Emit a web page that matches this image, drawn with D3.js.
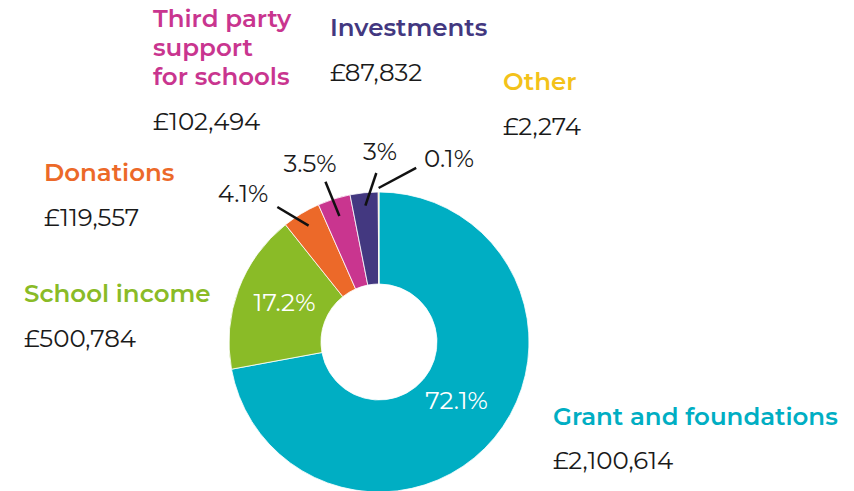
<!DOCTYPE html>
<html>
<head>
<meta charset="utf-8">
<script src="https://cdn.jsdelivr.net/npm/d3@7"></script>
<style>
  body { margin: 0; background: #fff; }
  svg { display: block; font-family: Montserrat, "DejaVu Sans", sans-serif; }
</style>
</head>
<body>
<div id="wrapper"></div>
<script>
// income sources, clockwise from 12 o'clock
const categories = ["Grant and foundations", "School income", "Donations", "Third party support for schools", "Investments", "Other"];
const amounts = [2100614, 500784, 119557, 102494, 87832, 2274];
const amountLabels = ["£2,100,614", "£500,784", "£119,557", "£102,494", "£87,832", "£2,274"];
const percentLabels = ["72.1%", "17.2%", "4.1%", "3.5%", "3%", "0.1%"];
const colours = ["#00aec3", "#8abb27", "#ec6929", "#c9358f", "#433880", "#f3c21a"];

function draw() {
  const width = 854, height = 491;
  const cx = 379, cy = 342;
  const outerR = 150, innerR = 58;

  const svg = d3.select("#wrapper")
    .append("svg")
      .attr("width", width)
      .attr("height", height)
      .attr("viewBox", "0 0 " + width + " " + height);

  const bounds = svg.append("g")
    .attr("transform", "translate(" + cx + "," + cy + ")");

  const data = categories.map((c, i) => ({ name: c, value: amounts[i], i: i }));
  const pie = d3.pie().value(d => d.value).sort(null);
  const arcs = pie(data);
  const arc = d3.arc().innerRadius(innerR).outerRadius(outerR);

  bounds.selectAll("path")
    .data(arcs)
    .enter()
    .append("path")
      .attr("d", arc)
      .attr("fill", d => colours[d.data.i])
      .attr("stroke", "#fff")
      .attr("stroke-width", 0.8);

  // polar helper (angle 0 at top, clockwise)
  const polar = (a, r) => [r * Math.sin(a), -r * Math.cos(a)];
  const mid = d => (d.startAngle + d.endAngle) / 2;
  const deg = Math.PI / 180;

  // percentages inside the two big slices
  const inside = { 0: [77.5, 67], 1: [-94.5, -31] };
  // leader lines: inner radius, outer end (angle offset in degrees, radius), text anchor point
  const leaders = {
    2: { r0: 136, da: -5.8, r1: 169, tx: -136, ty: -140 },
    3: { r0: 132, da: -1, r1: 169, tx: -69, ty: -170 },
    4: { r0: 137, da: 4.8, r1: 169, tx: 1, ty: -182 },
    5: { r0: 154, da: 12.2, r1: 178, tx: 70, ty: -175 }
  };

  arcs.forEach(d => {
    const i = d.data.i;
    if (inside[i]) {
      bounds.append("text")
        .attr("x", inside[i][0])
        .attr("y", inside[i][1])
        .attr("text-anchor", "middle")
        .attr("fill", "#fff")
        .attr("font-size", 24.5)
        .attr("font-weight", 400)
        .text(percentLabels[i]);
    } else {
      const L = leaders[i];
      const p0 = polar(mid(d), L.r0);
      const p1 = polar(mid(d) + L.da * deg, L.r1);
      bounds.append("line")
        .attr("x1", p0[0]).attr("y1", p0[1])
        .attr("x2", p1[0]).attr("y2", p1[1])
        .attr("stroke", "#111")
        .attr("stroke-width", 2.5);
      bounds.append("text")
        .attr("x", L.tx)
        .attr("y", L.ty)
        .attr("text-anchor", "middle")
        .attr("fill", "#1a1a1a")
        .attr("font-size", 24.5)
        .attr("font-weight", 400)
        .text(percentLabels[i]);
    }
  });

  // category names with amounts
  const labelPos = [
    { x: 553, lines: [425], vy: 469 },
    { x: 24, lines: [302], vy: 347 },
    { x: 44, lines: [181], vy: 226 },
    { x: 153, lines: [27, 56, 85], vy: 130 },
    { x: 330, lines: [36], vy: 81 },
    { x: 503, lines: [90], vy: 135 }
  ];
  const nameLines = {
    3: ["Third party", "support", "for schools"]
  };

  labelPos.forEach((p, i) => {
    const lines = nameLines[i] || [categories[i]];
    lines.forEach((t, k) => {
      svg.append("text")
        .attr("x", p.x)
        .attr("y", p.lines[k])
        .attr("fill", colours[i])
        .attr("font-size", 24.5)
        .attr("font-weight", 600)
        .text(t);
    });
    svg.append("text")
      .attr("x", p.x)
      .attr("y", p.vy)
      .attr("fill", "#1a1a1a")
      .attr("font-size", 24.5)
      .attr("font-weight", 400)
      .text(amountLabels[i]);
  });
}
draw();
</script>
</body>
</html>
